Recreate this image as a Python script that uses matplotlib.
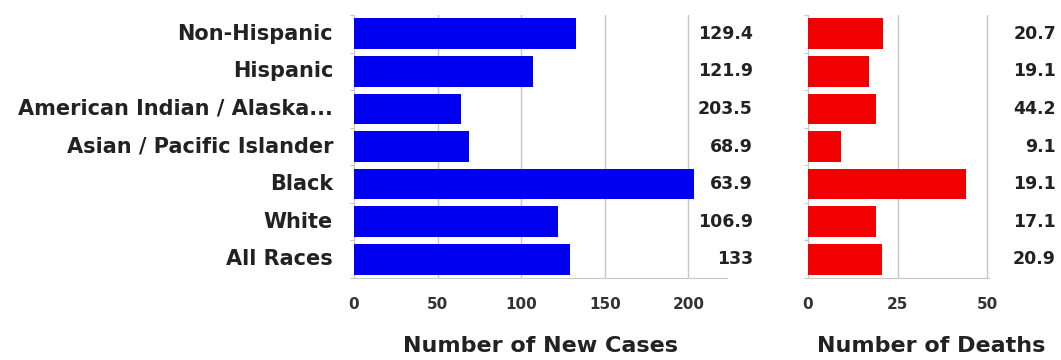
import matplotlib.pyplot as plt
import numpy as np

plt.rcParams['font.family'] = ['DejaVu Sans']

# categories listed from top row to bottom row
groups = ['Non-Hispanic', 'Hispanic', 'American Indian / Alaska...',
          'Asian / Pacific Islander', 'Black', 'White', 'All Races']
new_cases = [133, 106.9, 63.9, 68.9, 203.5, 121.9, 129.4]
deaths = [20.9, 17.1, 19.1, 9.1, 44.2, 19.1, 20.7]
# value column next to each panel is printed in reverse row order
case_labels = ['129.4', '121.9', '203.5', '68.9', '63.9', '106.9', '133']
death_labels = ['20.7', '19.1', '44.2', '9.1', '19.1', '17.1', '20.9']

case_ticks = [0, 50, 100, 150, 200]
death_ticks = [0, 25, 50]

TXT = '#222222'
GRID = '#c8c8c8'


def panel(ax, values, labels, color, ticks, xmax, title, title_x, label_x):
    y = np.arange(len(values))
    ax.barh(y, values, height=0.82, color=color, zorder=2)
    ax.set_ylim(len(values) - 0.5, -0.5)
    ax.set_xlim(0, xmax)
    ax.set_xticks(ticks)
    ax.set_xticklabels([str(t) for t in ticks], fontsize=11, fontweight='bold', color='#333333')
    ax.tick_params(axis='x', length=0, pad=14)
    ax.set_yticks(np.arange(len(values) + 1) - 0.5)
    ax.set_yticklabels([])
    ax.tick_params(axis='y', length=3, color=GRID)
    ax.grid(axis='x', color=GRID, lw=1, zorder=0)
    for s in ['top', 'right', 'left']:
        ax.spines[s].set_visible(False)
    ax.spines['bottom'].set_color(GRID)
    ax.set_xlabel(title, fontsize=16, fontweight='bold', color=TXT, labelpad=17, x=title_x)
    for i, lab in enumerate(labels):
        ax.text(label_x, i, lab, transform=ax.get_yaxis_transform(),
                ha='right', va='center', fontsize=12.5, fontweight='bold', color=TXT)


fig = plt.figure(figsize=(10.61, 3.6), dpi=100)
ax1 = fig.add_axes([0.3336, 0.228, 0.3515, 0.730])
ax2 = fig.add_axes([0.7615, 0.228, 0.1706, 0.730])

panel(ax1, new_cases, case_labels, '#0000f0', case_ticks, 223,
      'Number of New Cases', 0.5, 1.070)
panel(ax2, deaths, death_labels, '#f00000', death_ticks, 50.5,
      'Number of Deaths', 0.68, 1.37)

for i, g in enumerate(groups):
    ax1.text(-0.056, i, g, transform=ax1.get_yaxis_transform(),
             ha='right', va='center', fontsize=15, fontweight='bold', color=TXT)

fig.savefig('out.png', dpi=100)
